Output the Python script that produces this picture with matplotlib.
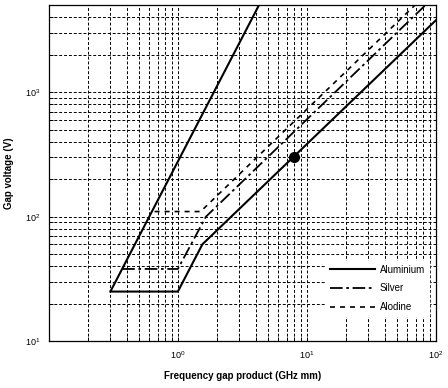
import matplotlib
matplotlib.use("Agg")
import matplotlib.pyplot as plt
from matplotlib.ticker import LogLocator, NullFormatter, FixedLocator

plt.rcParams['font.family'] = ['Liberation Sans', 'DejaVu Sans']
plt.rcParams['mathtext.fontset'] = 'custom'
plt.rcParams['mathtext.rm'] = 'Liberation Sans'
plt.rcParams['mathtext.it'] = 'Liberation Sans'
plt.rcParams['mathtext.bf'] = 'Liberation Sans:bold'

# Data
upper_fd = [0.3, 4.5]
upper_v = [25, 5625]

alu_fd = [0.3, 1.0, 1.55, 100]
alu_v = [25, 25, 60, 3800]

silver_fd = [0.37, 1.0, 1.65, 100]
silver_v = [38, 38, 100, 6060]

alodine_fd = [0.66, 1.5, 100]
alodine_v = [110, 110, 7300]

point_fd = [8.0]
point_v = [300]

labels = ["Aluminium", "Silver", "Alodine"]
x_major = [1, 10, 100]
y_major = [10, 100, 1000]

fig = plt.figure(figsize=(4.48, 3.88), dpi=100)
ax = fig.add_axes([0.109, 0.121, 0.864, 0.865])
ax.set_xscale('log')
ax.set_yscale('log')
ax.set_xlim(0.1, 100)
ax.set_ylim(10, 5000)

ax.plot(upper_fd, upper_v, color='black', lw=1.5, solid_capstyle='butt')
l1, = ax.plot(alu_fd, alu_v, color='black', lw=1.5, label=labels[0])
l2, = ax.plot(silver_fd, silver_v, color='black', lw=1.3,
              dashes=(7, 2, 1.5, 2), label=labels[1])
l3, = ax.plot(alodine_fd, alodine_v, color='black', lw=1.2,
              dashes=(3, 3), label=labels[2])
ax.plot(point_fd, point_v, 'o', color='black', ms=7, zorder=5)

ax.xaxis.set_major_locator(FixedLocator(x_major))
ax.xaxis.set_minor_locator(LogLocator(base=10, subs=range(2, 10)))
ax.yaxis.set_major_locator(FixedLocator(y_major))
ax.yaxis.set_minor_locator(LogLocator(base=10, subs=range(2, 10)))
ax.xaxis.set_minor_formatter(NullFormatter())
ax.yaxis.set_minor_formatter(NullFormatter())

ax.grid(True, which='both', color='black', lw=0.7, ls=(0, (3, 2)))
ax.tick_params(which='both', direction='in', length=3, width=0.7,
               labelsize=6.5, top=False, right=False)
ax.tick_params(axis='x', pad=6)
ax.tick_params(axis='y', pad=6)
for s in ax.spines.values():
    s.set_linewidth(0.9)

ax.set_xlabel("Frequency gap product (GHz mm)", fontsize=7, fontweight='bold', labelpad=7)
ax.set_ylabel("Gap voltage (V)", fontsize=7, fontweight='bold', labelpad=8)

leg = ax.legend(handles=[l1, l2, l3], loc='lower right', fontsize=7,
                frameon=True, framealpha=1, edgecolor='white', fancybox=False,
                handlelength=4.6, bbox_to_anchor=(0.995, 0.06),
                labelspacing=0.9, borderpad=0.4, handletextpad=0.5)

fig.savefig("out.png", dpi=100)
